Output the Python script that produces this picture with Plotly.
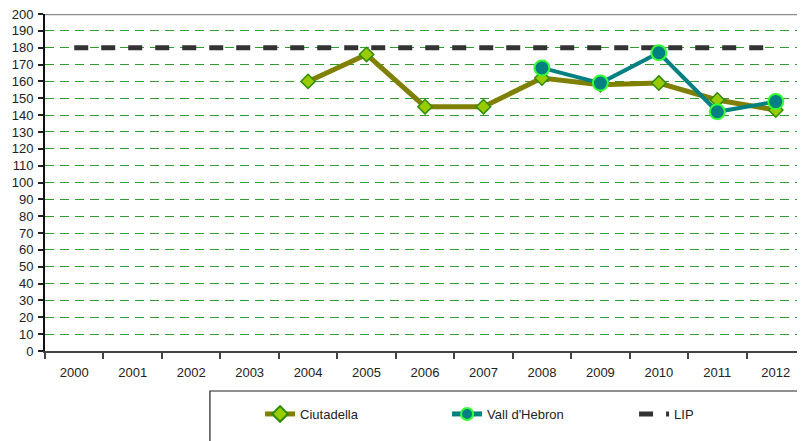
import plotly.graph_objects as go

years = ["2000", "2001", "2002", "2003", "2004", "2005", "2006",
         "2007", "2008", "2009", "2010", "2011", "2012"]
ciutadella = [None, None, None, None, 160, 176, 145, 145, 162, 158, 159, 149, 143]
vall_hebron = [None, None, None, None, None, None, None, None, 168, 159, 177, 142, 148]
lip = [180] * 13
y_ticks = list(range(0, 201, 10))

xpos = list(range(len(years)))

fig = go.Figure()
fig.add_trace(go.Scatter(
    x=xpos, y=lip, name="LIP", mode="lines",
    line=dict(color="#333333", width=5, dash="14px,13px"),
    legendrank=3,
))
fig.add_trace(go.Scatter(
    x=xpos, y=ciutadella, name="Ciutadella", mode="lines+markers",
    line=dict(color="#808000", width=5),
    marker=dict(symbol="diamond", size=11, color="#99CC00",
                line=dict(color="#2E8B00", width=1.5)),
    legendrank=1,
))
fig.add_trace(go.Scatter(
    x=xpos, y=vall_hebron, name="Vall d'Hebron", mode="lines+markers",
    line=dict(color="#008080", width=4),
    marker=dict(symbol="circle", size=15, color="#008080",
                line=dict(color="#33FF33", width=2)),
    legendrank=2,
))

# top border of plot area
fig.add_shape(type="line", xref="paper", yref="y", x0=0, x1=1, y0=200, y1=200,
              line=dict(color="#8c8c8c", width=2.5), layer="below")
# legend frame
fig.add_shape(type="rect", xref="paper", yref="paper", x0=0.217, x1=1.05,
              y0=-0.40, y1=-0.1187, line=dict(color="#222222", width=1.2),
              fillcolor="white", layer="below")

fig.update_layout(
    width=797, height=433,
    margin=dict(l=37, r=0, t=6, b=90, autoexpand=False),
    paper_bgcolor="white", plot_bgcolor="white",
    font=dict(family="Liberation Sans, Arial, sans-serif", size=13, color="#222222"),
    showlegend=True,
    legend=dict(
        orientation="h", x=0.283, y=-0.1424, xanchor="left", yanchor="top",
        borderwidth=0, bgcolor="rgba(0,0,0,0)",
        entrywidth=142, entrywidthmode="pixels",
        font=dict(size=13, color="#222222"),
        traceorder="normal", itemsizing="constant",
    ),
    xaxis=dict(
        range=[-0.5, 12.5],
        tickmode="array", tickvals=xpos, ticktext=years,
        ticks="", showgrid=False, zeroline=False,
        showline=True, linecolor="#444444", linewidth=2,
        ticklabelstandoff=8,
        minor=dict(tickmode="linear", tick0=-0.5, dtick=1, ticks="outside",
                   ticklen=6, tickcolor="#444444", tickwidth=2, showgrid=False),
    ),
    yaxis=dict(
        range=[0, 200],
        tickmode="array", tickvals=y_ticks,
        ticks="outside", ticklen=5, tickcolor="#222222", tickwidth=1.5,
        showline=True, linecolor="#111111", linewidth=2,
        showgrid=True, gridcolor="#2E9E2E", gridwidth=1.2, griddash="9px,6px",
        zeroline=False, ticklabelstandoff=2, ticklabeloverflow="allow",
    ),
)

fig.write_html("out.html", config={"displayModeBar": False})
